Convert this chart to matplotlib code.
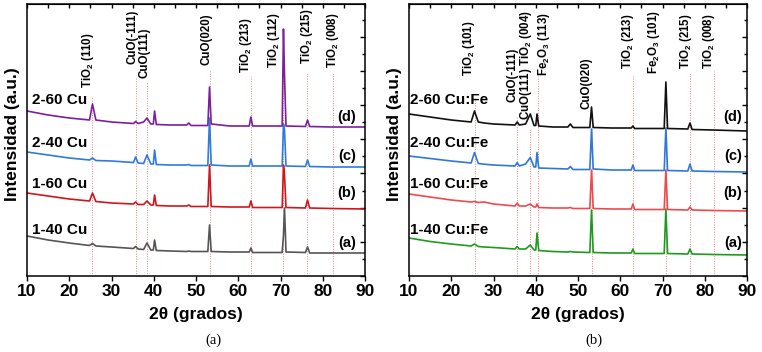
#!/usr/bin/env python
#
# XRD patterns of the Cu and Cu:Fe doped TiO2 samples, two panels side by side.

import matplotlib
matplotlib.use("Agg")
import matplotlib.pyplot as plt
import matplotlib.ticker as mt

plt.rcParams["font.family"] = ["Liberation Sans", "DejaVu Sans"]
plt.rcParams["mathtext.fontset"] = "custom"
plt.rcParams["mathtext.rm"] = "Liberation Sans:bold"
plt.rcParams["mathtext.bf"] = "Liberation Sans:bold"
plt.rcParams["mathtext.default"] = "bf"

# ---- panel (a): Cu samples ----
two_theta_a = [10, 15, 20, 24.8, 25.5, 26.3, 30, 35.2, 35.7, 36.3, 37.6, 38.4, 39.3, 39.9, 40.2, 40.6,
               44, 47.8, 48.3, 48.8, 52.8, 53.2, 53.6, 58, 62.6, 63.0, 63.4, 70.4, 70.7, 70.95, 71.3,
               75.9, 76.4, 76.9, 82, 90]
cu_1_40 = [40, 36, 33, 30.5, 32.5, 30, 29, 27.5, 29.5, 27, 26.5, 33, 26, 26, 36, 25.5,
           25, 24.5, 25, 24.5, 24.5, 51, 24.5, 24, 24, 28, 23.5, 23.5, 41, 68, 24,
           23.5, 29, 23, 23, 23]
cu_1_60 = [83, 80, 77, 75, 83, 74.5, 73, 72, 74, 71.5, 71.5, 75, 71, 71, 81, 70.5,
           70, 70, 71, 69.5, 69.5, 111, 69.5, 69, 69, 75, 68.5, 68.5, 111, 101, 68.5,
           68, 76, 68, 67.5, 67]
cu_2_40 = [124, 121, 118, 116, 118, 115.5, 115, 113.5, 119, 113, 112.5, 121, 112, 112, 126, 111.5,
           111, 111, 111.5, 110.5, 110.5, 158, 111, 110, 110, 117, 110, 110, 152, 146, 110,
           109.5, 116, 109.5, 109, 109]
cu_2_60 = [165, 161, 158, 156, 172, 156, 154, 152.5, 154.5, 152.5, 154, 158, 152, 152, 165, 151.5,
           151, 151, 153, 150.5, 150.5, 189, 152, 150, 150, 159, 150, 150, 247, 201, 150,
           149.5, 156, 149.5, 149, 149]
names_a = ["1-40 Cu", "1-60 Cu", "2-40 Cu", "2-60 Cu"]
colors_a = ["#555555", "#d0161c", "#2f7bdc", "#7c1f9e"]

peaks_a = [25.5, 35.7, 38.5, 53.2, 62.9, 70.7, 76.3, 82.35]
peak_labels_a = ["TiO$_2$ (110)", "CuO(-111)", "CuO(111)", "CuO(020)", "TiO$_2$ (213)",
                 "TiO$_2$ (112)", "TiO$_2$ (215)", "TiO$_2$ (008)"]

# ---- panel (b): Cu:Fe samples ----
two_theta_b = [10, 15, 20, 24.7, 25.5, 26.4, 27.8, 30, 35.1, 35.6, 36.1, 37.6, 38.7, 39.6, 40.0, 40.3,
               40.7, 44, 47.6, 48.2, 48.8, 52.8, 53.2, 53.6, 58, 62.6, 63.0, 63.4, 70.4, 70.8, 71.2,
               76.0, 76.5, 77.0, 82, 90]
cufe_1_40 = [38, 34.5, 32, 30, 32, 29.5, 29, 28.5, 27, 29.5, 27, 27, 31, 26, 26, 43,
             25.5, 24.5, 24, 24.5, 24, 23.5, 66, 23.5, 23, 23, 27, 22.5, 22.5, 67, 22.5,
             22, 27, 22, 21.5, 21]
cufe_1_60 = [82, 79, 76, 74, 74.5, 73.5, 74, 72, 70, 73, 70, 70, 72, 69, 69, 72,
             68.5, 68, 68, 68.5, 67.5, 67.5, 106, 67.5, 67, 67, 72, 66.5, 66.5, 106, 66.5,
             66, 69, 66, 65.5, 65]
cufe_2_40 = [120, 117.5, 115, 113, 123.5, 112.5, 111.8, 111, 110, 113.5, 110, 112, 118.5, 109, 109, 123.5,
             108, 107.5, 107, 109.5, 106.5, 106.5, 147, 107, 106, 106, 111, 105.5, 105.5, 148, 105.5,
             105, 112, 105, 104.5, 104]
cufe_2_60 = [162, 159, 156, 154, 165, 154, 153, 152, 151, 154, 151, 152, 162, 150.5, 150.5, 162,
             150, 149, 149, 152, 148.5, 148.5, 169, 148.5, 148, 148, 150, 147.5, 147.5, 194, 147.5,
             147, 153, 146.5, 146, 145]
names_b = ["1-40 Cu:Fe", "1-60 Cu:Fe", "2-40 Cu:Fe", "2-60 Cu:Fe"]
colors_b = ["#1f9a1f", "#ee4a4e", "#2f78da", "#111111"]

peaks_b = [25.7, 35.6, 38.6, 40.45, 53.3, 63.1, 70.8, 76.6, 82.3]
peak_labels_b = ["TiO$_2$ (101)", "CuO(-111)", "CuO(111) TiO$_2$ (004)", "Fe$_2$O$_3$ (113)",
                 "CuO(020)", "TiO$_2$ (213)", "Fe$_2$O$_3$ (101)", "TiO$_2$ (215)", "TiO$_2$ (008)"]

tags = ["(a)", "(b)", "(c)", "(d)"]

# layout (data positions of the annotations)
label_x_a = [24.4, 35.0, 37.9, 52.5, 61.8, 68.5, 76.2, 82.35]
label_top_a = [244, 266, 248, 263, 259, 264, 268, 264]
line_top_a = [180, 198, 193, 206, 200, 200, 203, 204]
label_x_b = [24.2, 34.4, 37.6, 42.0, 52.1, 61.8, 67.9, 75.6, 81.1]
label_top_b = [256, 228, 266, 264, 219, 263, 266, 263, 263]
line_top_b = [178, 160, 148, 200, 165, 201, 188, 204, 205]
name_y = [46, 92, 133, 176]
tag_y = [33, 83, 120, 159]

fig = plt.figure(figsize=(7.62, 3.52), dpi=100)
W, H = 762, 352
ax_a = fig.add_axes([27 / W, (H - 276) / H, 338 / W, 272 / H])
ax_b = fig.add_axes([409 / W, (H - 276) / H, 338 / W, 272 / H])

panels = [
    (ax_a, two_theta_a, [cu_1_40, cu_1_60, cu_2_40, cu_2_60], names_a, colors_a,
     peaks_a, peak_labels_a, label_x_a, label_top_a, line_top_a, 11.2, 85.7),
    (ax_b, two_theta_b, [cufe_1_40, cufe_1_60, cufe_2_40, cufe_2_60], names_b, colors_b,
     peaks_b, peak_labels_b, label_x_b, label_top_b, line_top_b, 10.3, 86.7),
]

for (ax, x, series, names, colors, peaks, plabels, lx, ltop, ltop_line, name_x, tag_x) in panels:
    for p, top in zip(peaks, ltop_line):
        ax.plot([p, p], [0, top], linestyle=(0, (1, 1.5)), color="#f08080", lw=0.7, zorder=1)
    for y, c in zip(series, colors):
        ax.plot(x, y, color=c, lw=1.2, zorder=2)
    for t, px, top in zip(plabels, lx, ltop):
        ax.text(px, top, t, rotation=90, ha="center", va="top", fontsize=8.3, fontweight="bold")
    for n, ny in zip(names, name_y):
        ax.text(name_x, ny, n, ha="left", va="center", fontsize=11, fontweight="bold")
    for t, ty in zip(tags, tag_y):
        ax.text(tag_x, ty, t, ha="center", va="center", fontsize=10.5, fontweight="bold")

    ax.set_xlim(10, 90)
    ax.set_ylim(0, 272)
    ax.xaxis.set_major_locator(mt.MultipleLocator(10))
    ax.tick_params(axis="x", which="major", direction="out", length=3.6, width=1,
                   labelsize=12.5, pad=2.5)
    for lab in ax.get_xticklabels():
        lab.set_fontweight("bold")
    ax.yaxis.set_ticks_position("right")
    ax.yaxis.set_major_locator(mt.MultipleLocator(34.2))
    ax.yaxis.set_minor_locator(mt.MultipleLocator(17.1))
    ax.tick_params(axis="y", which="major", direction="in", length=3.8, width=1, labelright=False)
    ax.tick_params(axis="y", which="minor", direction="in", length=2.2, width=1)

    # top ticks every 5 degrees
    top = ax.secondary_xaxis("top")
    top.xaxis.set_major_locator(mt.MultipleLocator(5))
    top.tick_params(direction="in", length=3, width=1, labeltop=False)

    for s in ax.spines.values():
        s.set_linewidth(1.1)

    ax.set_xlabel("2θ (grados)", fontsize=12.5, fontweight="bold")
    ax.xaxis.set_label_coords(0.5, -0.115)
    ax.yaxis.set_label_position("left")
    ax.set_ylabel("Intensidad (a.u.)", fontsize=12.5, fontweight="bold")
    ax.yaxis.set_label_coords(-0.022, 0.52)

fig.text(213 / W, 1 - 340 / H, "(a)", ha="center", va="center", fontsize=10.5, family="Liberation Serif")
fig.text(594 / W, 1 - 340 / H, "(b)", ha="center", va="center", fontsize=10.5, family="Liberation Serif")

fig.savefig("out.png", dpi=100)
